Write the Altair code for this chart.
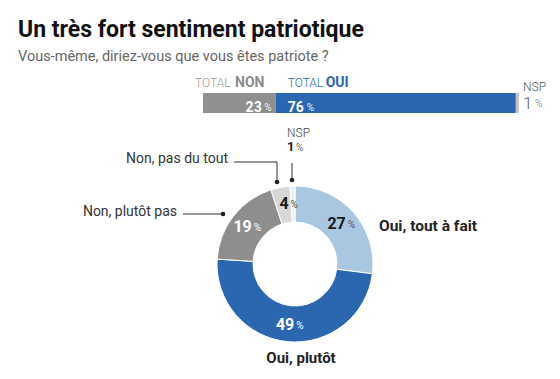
import altair as alt
import pandas as pd

# ---- data ----
title_text = "Un très fort sentiment patriotique"
subtitle_text = "Vous-même, diriez-vous que vous êtes patriote ?"

bar_cats = ["NON", "OUI", "NSP"]
bar_vals = [23, 76, 1]

donut_cats = ["Oui, tout à fait", "Oui, plutôt", "Non, plutôt pas", "Non, pas du tout", "NSP"]
donut_vals = [27, 49, 19, 4, 1]

FONT = "Roboto"

bar_df = pd.DataFrame({"cat": bar_cats, "val": bar_vals, "idx": range(len(bar_cats))})
bar_df["num"] = bar_df["val"].astype(str)
donut_df = pd.DataFrame({"cat": donut_cats, "val": donut_vals, "idx": range(len(donut_cats))})
donut_df["num"] = donut_df["val"].astype(str)

one = pd.DataFrame({"a": [0]})

def txt(text, x, y, size, color, weight="normal", align="left"):
    return alt.Chart(one).mark_text(
        text=text, font=FONT, fontSize=size, fontWeight=weight, color=color,
        align=align, baseline="alphabetic"
    ).encode(x=alt.value(x), y=alt.value(y))

def rule(x, y, x2=None, y2=None):
    enc = dict(x=alt.value(x), y=alt.value(y))
    if x2 is not None:
        enc["x2"] = alt.value(x2)
    if y2 is not None:
        enc["y2"] = alt.value(y2)
    return alt.Chart(one).mark_rule(color="#333", strokeWidth=1).encode(**enc)

def dot(x, y):
    return alt.Chart(one).mark_point(filled=True, size=22, color="#222", opacity=1).encode(
        x=alt.value(x), y=alt.value(y))

# ---- stacked bar ----
xs = alt.Scale(domain=[0, 100], range=[195, 511])
bar_colors = alt.Scale(domain=bar_cats, range=["#8f8f8f", "#2b67b1", "#c4c4c4"])

bar_base = alt.Chart(bar_df).transform_stack(
    stack="val", groupby=[], as_=["x0", "x1"], sort=[alt.SortField("idx")]
)
bar = bar_base.mark_bar().encode(
    x=alt.X("x0:Q", scale=xs, axis=None),
    x2="x1:Q",
    y=alt.value(85), y2=alt.value(105),
    color=alt.Color("cat:N", scale=bar_colors, legend=None),
)

def bar_text(i, field, anchor, dx, y, size, color, weight="normal", align="left", value=None, opacity=1):
    enc = dict(x=alt.X(f"{anchor}:Q", scale=xs), y=alt.value(y))
    enc["text"] = alt.value(value) if value is not None else alt.Text(f"{field}:N")
    return bar_base.transform_filter(f"datum.idx == {i}").mark_text(
        font=FONT, fontSize=size, fontWeight=weight, color=color, align=align, dx=dx,
        opacity=opacity
    ).encode(**enc)

bar_labels = [
    bar_text(0, "num", "x1", -14, 100, 14, "white", "bold", align="right"),
    bar_text(0, None, "x1", -4, 100, 10, "white", align="right", value="%", opacity=0.9),
    bar_text(1, "num", "x0", 12, 100, 14, "white", "bold"),
    bar_text(1, None, "x0", 31, 100, 10, "white", value="%", opacity=0.9),
    bar_text(0, None, "x0", -8, 75, 12, "#9a9a9a", 300, value="TOTAL"),
    bar_text(0, "cat", "x0", 32, 75, 14, "#8c8c8c", "bold"),
    bar_text(1, None, "x0", 12, 75, 12, "#2b67b1", 300, value="TOTAL"),
    bar_text(1, "cat", "x0", 50, 75, 14, "#2b67b1", "bold"),
    bar_text(2, "cat", "x1", 4, 79, 12, "#555", 300),
    bar_text(2, "num", "x1", 4, 96, 17, "#666", 300),
    bar_text(2, None, "x1", 16, 96, 10, "#777", 300, value="%"),
]

# ---- donut ----
CX, CY = 287, 256
donut_colors = alt.Scale(domain=donut_cats,
                         range=["#a9c7e0", "#2b67b1", "#8e8e8e", "#d8d8d8", "#eeeeee"])
label_colors = alt.Scale(domain=donut_cats,
                         range=["#1a1a1a", "#ffffff", "#ffffff", "#1a1a1a", "#1a1a1a"])
pct_colors = alt.Scale(domain=donut_cats,
                       range=["#555555", "#ffffff", "#ffffff", "#555555", "#555555"])
theta = alt.Theta("val:Q", stack=True, scale=alt.Scale(domain=[0, 100]))

donut_base = alt.Chart(donut_df)
arc = donut_base.mark_arc(radius=78, innerRadius=42, stroke="white", strokeWidth=1).encode(
    theta=theta,
    order=alt.Order("idx:Q"),
    color=alt.Color("cat:N", scale=donut_colors, legend=None),
    x=alt.value(CX), y=alt.value(CY),
)
lab_num = donut_base.mark_text(
    radius=61, font=FONT, fontSize=16, fontWeight="bold", align="right", baseline="middle", dx=5
).encode(
    theta=theta,
    order=alt.Order("idx:Q"),
    text=alt.condition("datum.idx < 4", "num:N", alt.value("")),
    color=alt.Color("cat:N", scale=label_colors, legend=None),
    x=alt.value(CX), y=alt.value(CY),
)
lab_pct = donut_base.mark_text(
    radius=61, font=FONT, fontSize=10, align="left", baseline="middle", dx=7, dy=1
).encode(
    theta=theta,
    order=alt.Order("idx:Q"),
    text=alt.condition("datum.idx < 4", alt.value("%"), alt.value("")),
    color=alt.Color("cat:N", scale=pct_colors, legend=None),
    x=alt.value(CX), y=alt.value(CY),
)

annotations = [
    txt(title_text, 10, 29, 23, "#111", "bold"),
    txt(subtitle_text, 10, 53, 14.5, "#666"),
    txt(donut_cats[0], 371, 223, 15.5, "#222", "bold"),
    txt(donut_cats[1], 293, 355, 15, "#222", "bold", align="center"),
    txt(donut_cats[4], 279, 129, 12, "#444", 300),
    txt(str(donut_vals[4]), 279, 143, 13, "#222", "bold"),
    txt("%", 288, 143, 10, "#666"),
    txt(donut_cats[3], 220, 155, 14, "#333", align="right"),
    txt(donut_cats[2], 169, 208, 14, "#333", align="right"),
    rule(284, 155, y2=172), dot(284, 172),
    rule(226, 154, x2=269), rule(269, 154, y2=174), dot(269, 174),
    rule(175, 206, x2=215), dot(215, 206),
]

chart = alt.layer(
    bar, *bar_labels,
    arc, lab_num, lab_pct,
    *annotations,
).resolve_scale(color="independent").properties(
    width=540, height=358, padding=0, background="white",
    autosize=alt.AutoSizeParams(type="none")
).configure_view(strokeWidth=0)

chart.save("out.html", embed_options={"renderer": "svg", "actions": False})
